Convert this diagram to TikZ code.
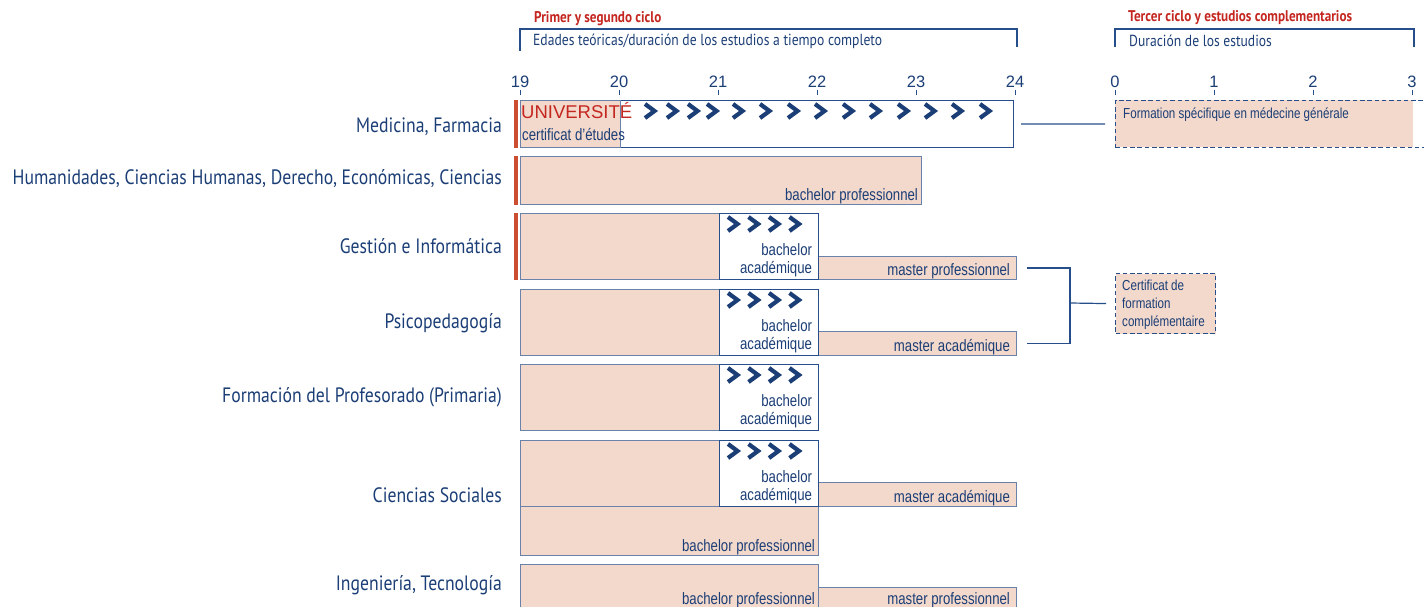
\documentclass[tikz,border=0pt]{standalone}
\usepackage{fontspec}
\setmainfont[FakeStretch=0.8]{Liberation Sans}
\newfontfamily\labfont[FakeStretch=0.85]{PT Sans}
\newfontfamily\numfont{Liberation Sans}
\usetikzlibrary{positioning,calc}
\definecolor{navy}{RGB}{27,62,118}
\definecolor{ocean}{RGB}{38,78,138}
\definecolor{haze}{RGB}{104,130,170}
\definecolor{salmon}{RGB}{243,217,204}
\definecolor{brick}{RGB}{196,38,32}
\definecolor{rust}{RGB}{203,78,48}
\tikzset{
  sal/.style={draw=haze,fill=salmon,line width=1.1pt,inner sep=0pt,anchor=north west},
  wbox/.style={draw=ocean,fill=white,line width=1.2pt,inner sep=0pt,anchor=north west},
  dbox/.style={draw=ocean,line width=1.1pt,dash pattern=on 4.5pt off 2.8pt,inner sep=0pt,anchor=north west},
  txt/.style={font=\fontsize{16.5}{18}\selectfont,text=navy,inner sep=0pt},
  small/.style={font=\fontsize{14.5}{18}\selectfont,text=navy,inner sep=0pt},
  rowlab/.style={font=\labfont\fontsize{20.8}{24}\selectfont,text=navy,inner sep=0pt,anchor=base east},
  head/.style={font=\labfont\bfseries\fontsize{15.5}{18}\selectfont,text=brick,inner sep=0pt,anchor=base west},
  sub/.style={font=\labfont\fontsize{16}{18}\selectfont,text=navy,inner sep=0pt,anchor=base west},
  num/.style={font=\numfont\fontsize{16.5}{18}\selectfont,text=navy,inner sep=0pt,anchor=base},
  link/.style={draw=ocean,line width=1.2pt},
  bar/.style={fill=rust},
  % chevron mark
  pics/chev/.style={code={
    \draw[navy,line width=4.2pt,miter limit=4] (-5,-7) -- (4.5,0) -- (-5,7);
  }},
}
\newcommand{\comma}{,}

\begin{document}
\begin{tikzpicture}[x=1pt,y=-1pt]
  \useasboundingbox (0,0) rectangle (1424,607);
  % headings
  \node[head] (h1) at (534,23) {Primer y segundo ciclo};
  \node[sub] (s1) at (533,46) {Edades teóricas/duración de los estudios a tiempo completo};
  \draw[link] (520,51) |- (1017,29) -- (1017,47);
  \node[head] (h2) at (1128,22) {Tercer ciclo y estudios complementarios};
  \node[sub] (s2) at (1129,47) {Duración de los estudios};
  \draw[link] (1115,47) |- (1414,29) -- (1414,47);
  % axes
  \foreach \v [count=\i from 0] in {19,...,24} {
    \node[num] (y\v) at (520+99*\i,88) {\v};
    \draw[link,line width=0.8pt] (520+99*\i,90) -- (520+99*\i,95);
  }
  \foreach \v in {0,...,3} {
    \node[num] (d\v) at (1115+99*\v,88) {\v};
    \draw[link,line width=0.8pt] (1115+99*\v,90) -- (1115+99*\v,95);
  }
  % row labels
  \foreach \n/\y/\t in {lmed/132/Medicina\comma{} Farmacia,
      lhum/184/Humanidades\comma{} Ciencias Humanas\comma{} Derecho\comma{} Económicas\comma{} Ciencias,
      lges/253/Gestión e Informática, lpsi/328/Psicopedagogía,
      lfor/402/Formación del Profesorado (Primaria), lsoc/502/Ciencias Sociales,
      ling/590/Ingeniería\comma{} Tecnología}
    \node[rowlab] (\n) at (502,\y) {\t};
  % medicina
  \node[wbox,minimum width=493pt,minimum height=47pt] (med) at (520,100) {};
  \node[sal,minimum width=100pt,minimum height=47pt] (cert) at (520,100) {};
  \node[txt,anchor=base west] (certl) at (522,141) {certificat d'études};
  \node[font=\numfont\fontsize{18.5}{20}\selectfont,text=brick,inner sep=0pt,anchor=base west] (univ) at (521,119) {UNIVERSITÉ};
  \foreach \x in {650,672,693,712,738,765,793,820,848,875,903,930,957,985}
    \pic at (\x,111) {chev};
  \fill[salmon] (1115,100) rectangle (1413,147);
  \node[dbox,minimum width=320pt,minimum height=47pt] (form) at (1115,100) {};
  \node[small,anchor=base west] (forml) at (1123,119) {Formation spécifique en médecine générale};
  \draw[link,shorten <=7pt,shorten >=10pt] (med) -- (form);
  % study blocks
  \foreach \n/\x/\y/\w/\h in {hum/520/156/401/48, gesA/520/213/199/66, psiA/520/289/199/66,
      forA/520/364/199/66, socA/520/440/199/66, socP/520/506/298/49, ingA/520/564/298/44,
      gesM/818/256/198/23, psiM/818/331/198/24, socM/818/482/198/24, ingM/818/587/198/21}
    \node[sal,minimum width=\w pt,minimum height=\h pt] (\n) at (\x,\y) {};
  \foreach \n/\dx/\t in {hum/4/bachelor professionnel, socP/4/bachelor professionnel,
      ingA/4/bachelor professionnel, gesM/7/master professionnel, psiM/7/master académique,
      socM/7/master académique, ingM/7/master professionnel}
    \node[txt,anchor=base east] (\n-t) at ([xshift=-\dx pt,yshift=5pt]\n.south east) {\t};
  \foreach \n/\y in {gesB/213, psiB/289, forB/364, socB/440} {
    \node[wbox,minimum width=99pt,minimum height=66pt] (\n) at (719,\y) {};
    \foreach \dx in {14,34.5,55,75.5}
      \pic at (719+\dx,\y+11) {chev};
    \node[txt,anchor=base east] (\n-a) at ([xshift=-7pt,yshift=25pt]\n.south east) {bachelor};
    \node[txt,anchor=base east] (\n-b) at ([xshift=-7pt,yshift=7pt]\n.south east) {académique};
  }
  \foreach \n in {med,hum,gesA}
    \fill[bar] ([xshift=-6pt]\n.north west) rectangle ([xshift=-2pt]\n.south west);
  % complementary certificate
  \node[dbox,fill=salmon,minimum width=100pt,minimum height=60pt] (cfc) at (1115,273) {};
  \node[small,anchor=north west,align=left] (cfcl) at (1122,280) {Certificat de\\formation\\complémentaire};
  \coordinate (jn) at (1070,303);
  \draw[link] ([xshift=10pt]gesM.east) -| (jn) |- ([xshift=10pt]psiM.east);
  \draw[link] (jn) -- ([xshift=-9pt]cfc.west);
\end{tikzpicture}
\end{document}
